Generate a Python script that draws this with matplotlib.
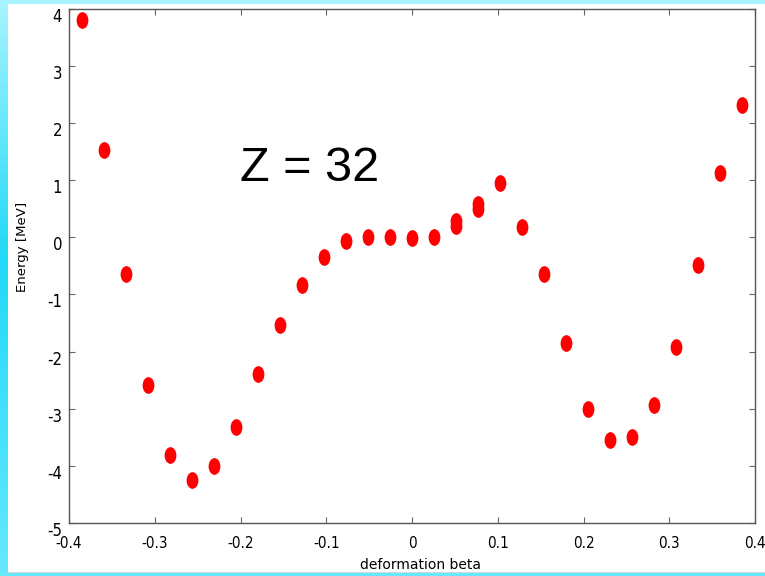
import numpy as np
import matplotlib
matplotlib.use("Agg")
import matplotlib.pyplot as plt
from matplotlib.path import Path
from matplotlib.transforms import Affine2D, ScaledTranslation

# Data
beta = [-0.385, -0.359, -0.333, -0.308, -0.282, -0.257, -0.231, -0.205, -0.180,
        -0.154, -0.128, -0.103, -0.077, -0.051, -0.026, 0.000, 0.026, 0.051,
        0.051, 0.077, 0.077, 0.103, 0.128, 0.154, 0.180, 0.205, 0.231, 0.257,
        0.282, 0.308, 0.333, 0.359, 0.385]
energy = [3.80, 1.52, -0.65, -2.58, -3.81, -4.24, -4.01, -3.32, -2.40,
          -1.53, -0.83, -0.34, -0.07, 0.01, 0.01, -0.02, 0.01, 0.29,
          0.19, 0.58, 0.50, 0.95, 0.18, -0.65, -1.85, -3.01, -3.54, -3.50,
          -2.94, -1.92, -0.48, 1.13, 2.31]
xticks = [-0.4, -0.3, -0.2, -0.1, 0.0, 0.1, 0.2, 0.3, 0.4]
xticklabels = ["-0.4", "-0.3", "-0.2", "-0.1", "0", "0.1", "0.2", "0.3", "0.4"]
yticks = [-5, -4, -3, -2, -1, 0, 1, 2, 3, 4]
yticklabels = ["-5", "-4", "-3", "-2", "-1", "0", "1", "2", "3", "4"]

W, H = 765, 576
fig = plt.figure(figsize=(W / 100, H / 100), dpi=100)

# Background frame with cyan border
bg = fig.add_axes([0, 0, 1, 1], zorder=-10)
bg.set_axis_off()
img = np.ones((H, W, 3))
top_c = np.array([0.66, 0.96, 1.0])
mid_c = np.array([0.13, 0.85, 0.97])
bot_c = np.array([0.40, 0.91, 1.0])
rows = np.linspace(0, 1, H)
left_cols = np.zeros((H, 3))
for i, t in enumerate(rows):
    if t < 0.45:
        f = t / 0.45
        left_cols[i] = top_c * (1 - f) + mid_c * f
    else:
        f = (t - 0.45) / 0.55
        left_cols[i] = mid_c * (1 - f) + bot_c * f
img[:, :8, :] = left_cols[:, None, :]
img[:4, :, :] = top_c
img[H - 3:, :, :] = bot_c
img[H - 4, 8:, :] = [0.85, 0.85, 0.85]
bg.imshow(img, aspect="auto", extent=[0, 1, 0, 1], interpolation="nearest")
bg.set_xlim(0, 1)
bg.set_ylim(0, 1)

ax = fig.add_axes([69 / W, 1 - 523 / H, (755 - 69) / W, (523 - 8.7) / H])
ax.set_facecolor("white")

ell = Path.unit_circle().transformed(Affine2D().scale(0.68, 1.0))
ax.plot(beta, energy, linestyle="none", marker=ell, markersize=11,
        color="#ff0000", markeredgecolor="#ff0000")

ax.set_xlim(-0.4, 0.4)
ax.set_ylim(-5, 4)
ax.set_xticks(xticks)
ax.set_xticklabels(xticklabels)
ax.set_yticks(yticks)
ax.set_yticklabels(yticklabels)

for s in ax.spines.values():
    s.set_color("#555555")
    s.set_linewidth(1.0)
ax.tick_params(direction="in", length=4, width=0.8, color="#666666",
               top=True, right=True)
ax.tick_params(axis="x", pad=9, labelsize=11)
ax.tick_params(axis="y", pad=5, labelsize=12)

for lab in ax.get_xticklabels():
    lab.set_fontstretch("condensed")
off = ScaledTranslation(0, -6 / 100, fig.dpi_scale_trans)
for lab in ax.get_yticklabels():
    lab.set_fontstretch("condensed")
    lab.set_transform(lab.get_transform() + off)

ax.set_xlabel("deformation beta", fontsize=10)
ax.xaxis.set_label_coords(0.513, -0.068)
ax.set_ylabel("Energy [MeV]", fontsize=9.5)
ax.yaxis.set_label_coords(-0.058, 0.537)

ax.text(-0.2, 1.2, "Z = 32", fontsize=35, family="Liberation Sans",
        ha="left", va="center", transform=ax.transData)

fig.savefig("out.png", dpi=100)
